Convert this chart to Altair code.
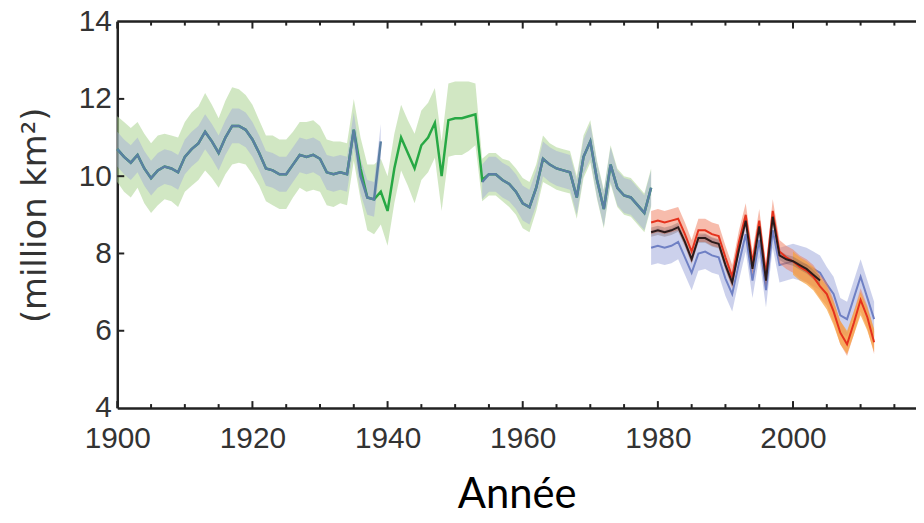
import altair as alt
import pandas as pd

# ---------------- data ----------------
hist_years = list(range(1900, 1980))
green_vals = [10.7, 10.5, 10.35, 10.55, 10.2, 9.95, 10.15, 10.25, 10.2, 10.1,
              10.5, 10.7, 10.85, 11.15, 10.9, 10.6, 11.0, 11.3, 11.3, 11.2,
              10.95, 10.6, 10.2, 10.15, 10.05, 10.05, 10.3, 10.55, 10.5, 10.55,
              10.45, 10.1, 10.05, 10.1, 10.05, 11.2, 10.2, 9.45, 9.4, 9.6,
              9.1, 10.2, 11.0, 10.6, 10.2, 10.8, 11.0, 11.38, 10.0, 11.45,
              11.5, 11.5, 11.55, 11.6, 9.9, 10.05, 10.05, 9.9, 9.8, 9.6,
              9.3, 9.2, 9.7, 10.45, 10.3, 10.2, 10.15, 10.1, 9.45, 10.5,
              10.9, 9.9, 9.15, 10.3, 9.7, 9.5, 9.45, 9.25, 9.05, 9.7]
green_hw = [0.85, 0.9, 0.9, 0.85, 0.9, 0.9, 0.9, 0.85, 0.85, 0.9,
            0.9, 0.95, 0.95, 1.0, 0.95, 0.9, 0.95, 1.0, 0.95, 0.9,
            0.9, 0.85, 0.85, 0.9, 0.9, 0.9, 0.85, 0.85, 0.9, 0.9,
            0.85, 0.85, 0.85, 0.8, 0.8, 0.8, 0.8, 0.85, 0.9, 0.85,
            0.9, 0.9, 0.85, 0.85, 0.9, 0.9, 0.9, 0.9, 0.9, 0.95,
            0.95, 0.95, 0.9, 0.8, 0.55, 0.55, 0.55, 0.55, 0.6, 0.6,
            0.65, 0.65, 0.6, 0.6, 0.55, 0.55, 0.55, 0.55, 0.55, 0.55,
            0.55, 0.5, 0.5, 0.5, 0.5, 0.5, 0.5, 0.5, 0.5, 0.5]
blue_hist_vals = [10.7, 10.5, 10.35, 10.55, 10.2, 9.95, 10.15, 10.25, 10.2, 10.1,
                  10.5, 10.7, 10.85, 11.15, 10.9, 10.6, 11.0, 11.3, 11.3, 11.2,
                  10.95, 10.6, 10.2, 10.15, 10.05, 10.05, 10.3, 10.55, 10.5, 10.55,
                  10.45, 10.1, 10.05, 10.1, 10.05, 11.2, 10.0, 9.45, 9.4, 10.9,
                  None, None, None, None, None, None, None, None, None, None,
                  None, None, None, None, 9.85, 10.05, 10.05, 9.9, 9.8, 9.6,
                  9.3, 9.2, 9.7, 10.45, 10.3, 10.2, 10.15, 10.1, 9.45, 10.5,
                  10.9, 9.9, 9.15, 10.3, 9.7, 9.5, 9.45, 9.25, 9.05, 9.7]
blue_hist_hw = [0.45] * 80

mod_years = list(range(1979, 2013))
black_years = list(range(1979, 2005))
black_vals = [8.55, 8.6, 8.55, 8.6, 8.68, 8.3, 7.85, 8.4, 8.4, 8.3,
              8.25, 7.7, 7.25, 8.1, 8.85, 7.6, 8.7, 7.3, 8.95, 7.95,
              7.85, 7.8, 7.7, 7.6, 7.45, 7.3]
black_hw = [0.12] * 26
red_vals = [8.8, 8.85, 8.8, 8.85, 8.9, 8.5, 8.05, 8.6, 8.6, 8.5,
            8.45, 7.9, 7.4, 8.3, 9.0, 7.75, 8.85, 7.45, 9.1, 8.05,
            7.9, 7.8, 7.65, 7.55, 7.4, 7.15, 6.95, 6.5, 5.95, 5.65,
            6.2, 6.8, 6.35, 5.7]
red_hw = [0.3] * 34
blue_mod_vals = [8.15, 8.2, 8.15, 8.2, 8.3, 7.9, 7.5, 8.0, 8.05, 7.95,
                 7.9, 7.35, 6.95, 7.75, 8.5, 7.3, 8.35, 7.05, 8.6, 7.7,
                 7.75, 7.8, 7.75, 7.7, 7.6, 7.5, 7.2, 6.95, 6.4, 6.3,
                 6.85, 7.4, 6.85, 6.3]
blue_mod_hw = [0.45] * 34
orange_years = list(range(2000, 2013))
orange_vals = [7.75, 7.6, 7.5, 7.35, 7.1, 6.85, 6.45, 5.95, 5.7, 6.2, 6.7, 6.3, 5.75]
orange_hw = [0.3] * 13

x_major = [1900, 1920, 1940, 1960, 1980, 2000]
x_minor = [1905, 1910, 1915, 1925, 1930, 1935, 1945, 1950, 1955, 1965, 1970,
           1975, 1985, 1990, 1995, 2005, 2010, 2015]
y_major = [4, 6, 8, 10, 12, 14]

# ---------------- helpers ----------------
def band_df(years, vals, hw):
    rows = []
    s = 0
    for y, v, h in zip(years, vals, hw):
        if v is None:
            s += 1
            continue
        rows.append({"year": y, "v": v, "lo": v - h, "hi": v + h, "seg": s})
    return pd.DataFrame(rows)

W, H = 804, 389
xs = alt.Scale(domain=[1900, 2018.2], nice=False, zero=False)
ys = alt.Scale(domain=[4, 14], nice=False, zero=False)
xaxis = alt.Axis(values=x_major, format="d", ticks=False, grid=False,
                 domain=True, domainColor="#222", domainWidth=2.5,
                 labelFlush=False, labelOverlap=False,
                 labelFont="Liberation Sans", labelFontSize=30, labelColor="#333",
                 labelPadding=16, title="Année", titleFont="Lato",
                 titleFontSize=42, titleFontWeight="normal", titleColor="#000",
                 titlePadding=21)
yaxis = alt.Axis(values=y_major, ticks=False, grid=False,
                 domain=True, domainColor="#222", domainWidth=2.5,
                 labelFlush=False, labelOverlap=False,
                 labelFont="Liberation Sans", labelFontSize=30, labelColor="#333",
                 labelPadding=6, title="(million km²)", titleFont="DejaVu Sans",
                 titleFontSize=34, titleFontWeight="normal", titleColor="#333",
                 titlePadding=26)
X = alt.X("year:Q", scale=xs, axis=xaxis)
Y = alt.Y("v:Q", scale=ys, axis=yaxis)
LO = alt.Y("lo:Q", scale=ys, axis=yaxis)
HI = alt.Y2("hi:Q")

g = band_df(hist_years, green_vals, green_hw)
bh = band_df(hist_years, blue_hist_vals, blue_hist_hw)
bk = band_df(black_years, black_vals, black_hw)
rd = band_df(mod_years, red_vals, red_hw)
bm = band_df(mod_years, blue_mod_vals, blue_mod_hw)
og = band_df(orange_years, orange_vals, orange_hw)

def area(df, color, op):
    return alt.Chart(df).mark_area(color=color, opacity=op, interpolate="linear").encode(
        x=X, y=LO, y2=HI, detail="seg:N")

def line(df, color, w):
    return alt.Chart(df).mark_line(color=color, strokeWidth=w).encode(
        x=X, y=Y, detail="seg:N")

layers = [
    area(g, "#b3d79b", 0.6),
    area(bh, "#9fa8da", 0.45),
    line(g, "#27a844", 2.5),
    line(bh, "#5b7fa3", 2.5),
    area(bm, "#aab2e0", 0.6),
    line(bm, "#6f80c4", 2),
    area(rd, "#f07a5a", 0.5),
    area(og, "#f7a13d", 0.7),
    area(bk, "#6b5050", 0.3),
    line(rd, "#e5321d", 2),
    line(bk, "#2a1a1a", 2),
]

tmaj = pd.DataFrame({"year": x_major})
tmin = pd.DataFrame({"year": x_minor})
tyv = pd.DataFrame({"v": y_major[1:-1]})
tick_c = "#222"
layers += [
    alt.Chart(tmaj).mark_rule(color=tick_c, strokeWidth=2).encode(
        x=X, y=alt.value(H), y2=alt.value(H - 7)),
    alt.Chart(tmaj).mark_rule(color=tick_c, strokeWidth=2).encode(
        x=X, y=alt.value(0), y2=alt.value(7)),
    alt.Chart(tmin).mark_rule(color=tick_c, strokeWidth=2).encode(
        x=X, y=alt.value(H), y2=alt.value(H - 4)),
    alt.Chart(tmin).mark_rule(color=tick_c, strokeWidth=2).encode(
        x=X, y=alt.value(0), y2=alt.value(4)),
    alt.Chart(tyv).mark_rule(color=tick_c, strokeWidth=2).encode(
        y=Y, x=alt.value(0), x2=alt.value(7)),
    alt.Chart(pd.DataFrame({"a": [0]})).mark_rule(color="#222", strokeWidth=2.5).encode(
        y=alt.value(0), x=alt.value(0), x2=alt.value(W)),
]

chart = alt.layer(*layers).properties(
    width=W, height=H,
    autosize=alt.AutoSizeParams(type="none"),
    padding={"left": 110, "top": 12, "right": 0, "bottom": 112},
).configure_view(stroke=None).configure(background="white")

chart.save("out.html", embed_options={"renderer": "svg", "actions": False})
